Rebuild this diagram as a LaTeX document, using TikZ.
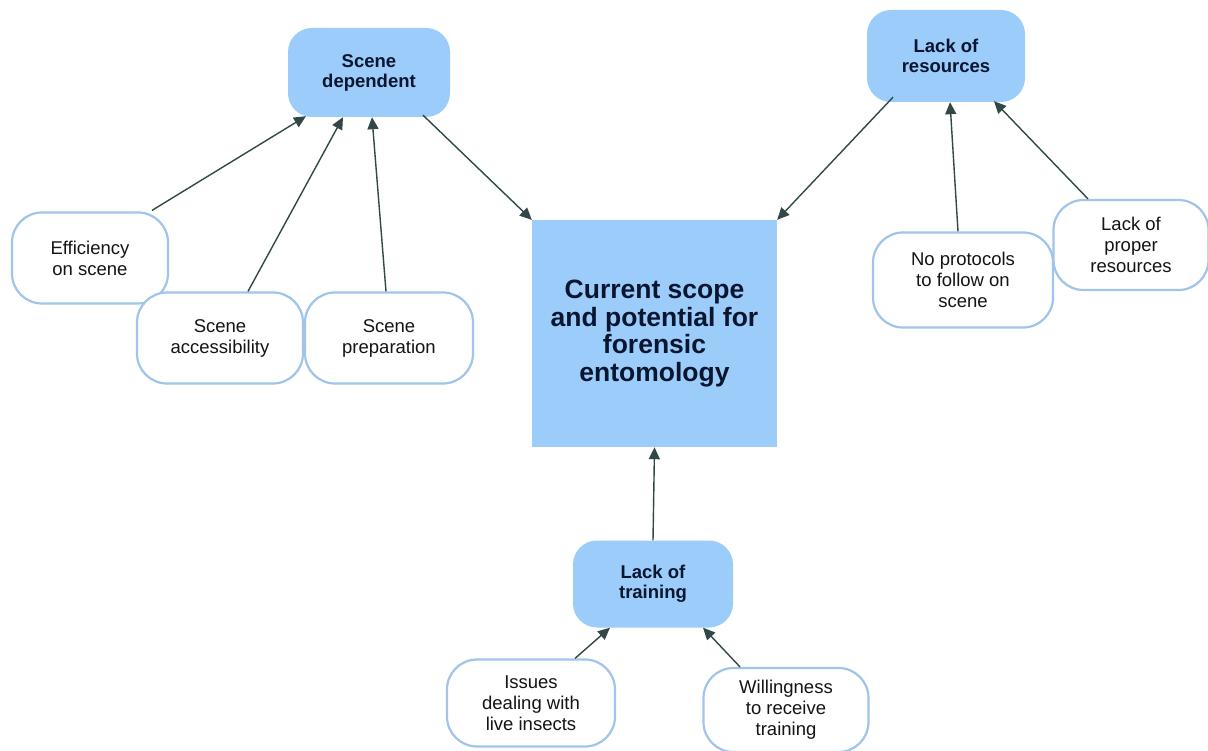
\documentclass[tikz,border=0pt]{standalone}
\usepackage{fontspec}
\setmainfont{Liberation Sans}
\usetikzlibrary{arrows.meta}
\definecolor{bluefill}{RGB}{155,204,250}
\definecolor{wborder}{RGB}{160,196,234}
\definecolor{arrowc}{RGB}{50,72,72}
\definecolor{navytext}{RGB}{10,22,48}
\definecolor{wtext}{RGB}{20,20,20}
\tikzset{
  bluebox/.style={fill=bluefill, draw=none, rounded corners=24pt, inner sep=0pt, align=center,
    text=navytext, font=\fontsize{18.5}{20}\selectfont\bfseries},
  whitebox/.style={fill=white, draw=wborder, line width=2.2pt, rounded corners=30pt, inner sep=0pt,
    align=center, text=wtext, font=\fontsize{18.5}{21}\selectfont},
  mainbox/.style={fill=bluefill, draw=none, inner sep=0pt, align=center, text=navytext,
    font=\fontsize{26.5}{27.5}\selectfont\bfseries},
  conn/.style={draw=arrowc, line width=1.4pt, -{Triangle[length=12pt,width=11pt]}}
}
\begin{document}
\begin{tikzpicture}[x=1pt,y=-1pt]
\useasboundingbox[fill=white] (0,0) rectangle (1208,751);
% main box
\node[mainbox, minimum width=245pt, minimum height=227pt] (main) at (654.5,333.5)
  {Current scope\\and potential for\\forensic\\entomology};
% blue boxes
\node[bluebox, minimum width=162pt, minimum height=89pt] (sd) at (369,72.5) {Scene\\dependent};
\node[bluebox, minimum width=158pt, minimum height=92pt] (lor) at (946,56) {Lack of\\resources};
\node[bluebox, minimum width=160pt, minimum height=87pt] (lt) at (653,584) {Lack of\\training};
% white boxes
\node[whitebox, minimum width=156pt, minimum height=91pt] (eff) at (90,258) {Efficiency\\on scene};
\node[whitebox, minimum width=166pt, minimum height=91pt] (acc) at (220,338) {Scene\\accessibility};
\node[whitebox, minimum width=168pt, minimum height=91pt] (prep) at (389,338) {Scene\\preparation};
\node[whitebox, minimum width=180pt, minimum height=95pt] (np) at (963,280) {No protocols\\to follow on\\scene};
\node[whitebox, minimum width=155pt, minimum height=90pt] (lpr) at (1131,245) {Lack of\\proper\\resources};
\node[whitebox, minimum width=168pt, minimum height=87pt] (iss) at (531,703) {Issues\\dealing with\\live insects};
\node[whitebox, minimum width=165pt, minimum height=84pt] (will) at (786,710) {Willingness\\to receive\\training};
% connectors
\draw[conn] ([xshift=62pt,yshift=1pt]eff.north) -- ([xshift=-63pt,yshift=1pt]sd.south);
\draw[conn] ([xshift=28pt]acc.north) -- ([xshift=-26pt]sd.south);
\draw[conn] ([xshift=-3pt]prep.north) -- ([xshift=3pt]sd.south);
\draw[conn] ([xshift=54pt,yshift=2pt]sd.south) -- (main.north west);
\draw[conn] ([xshift=-53pt,yshift=5pt]lor.south) -- (main.north east);
\draw[conn] ([xshift=-5pt]np.north) -- ([xshift=4pt]lor.south);
\draw[conn] ([xshift=-43pt]lpr.north) -- ([xshift=48pt,yshift=1pt]lor.south);
\draw[conn] (lt.north) -- (main.south);
\draw[conn] ([xshift=44pt]iss.north) -- ([xshift=-43pt]lt.south);
\draw[conn] ([xshift=-46pt]will.north) -- ([xshift=50pt]lt.south);
\end{tikzpicture}
\end{document}
